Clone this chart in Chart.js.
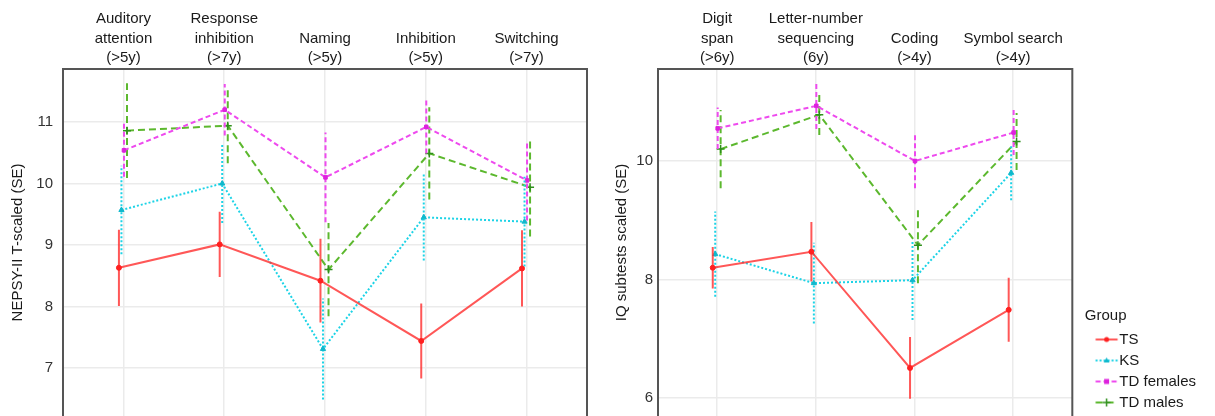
<!DOCTYPE html>
<html>
<head>
<meta charset="utf-8">
<script src="https://cdn.jsdelivr.net/npm/chart.js@4.4.1/dist/chart.umd.min.js"></script>
<style>
  html, body { margin: 0; padding: 0; background: #fff; }
  #wrap { display: flex; width: 1215px; height: 416px; overflow: hidden; }
  canvas { display: block; }
</style>
</head>
<body>
<div id="wrap">
  <canvas id="nepsy" width="590" height="416"></canvas>
  <canvas id="iq" width="625" height="416"></canvas>
</div>
<script>
(() => {
  'use strict'

  const groups = ['TS', 'KS', 'TD females', 'TD males']

  // NEPSY-II subtests
  const nepsyTests = [
    ['Auditory', 'attention', '(>5y)'],
    ['Response', 'inhibition', '(>7y)'],
    ['Naming', '(>5y)'],
    ['Inhibition', '(>5y)'],
    ['Switching', '(>7y)']
  ]
  const nepsyTS = [8.63, 9.01, 8.42, 7.44, 8.62]
  const nepsyTSse = [0.62, 0.53, 0.68, 0.61, 0.62]
  const nepsyKS = [9.57, 10.0, 7.31, 9.45, 9.38]
  const nepsyKSse = [0.72, 0.64, 0.82, 0.70, 0.73]
  const nepsyTDf = [10.54, 11.2, 10.1, 10.92, 10.05]
  const nepsyTDfse = [0.43, 0.42, 0.73, 0.43, 0.65]
  const nepsyTDm = [10.86, 10.94, 8.6, 10.49, 9.94]
  const nepsyTDmse = [0.77, 0.61, 0.76, 0.75, 0.8]

  // IQ subtests
  const iqTests = [
    ['Digit', 'span', '(>6y)'],
    ['Letter-number', 'sequencing', '(6y)'],
    ['Coding', '(>4y)'],
    ['Symbol search', '(>4y)']
  ]
  const iqTS = [8.2, 8.47, 6.51, 7.49]
  const iqTSse = [0.35, 0.5, 0.52, 0.54]
  const iqKS = [8.43, 7.94, 7.99, 9.8]
  const iqKSse = [0.72, 0.68, 0.67, 0.46]
  const iqTDf = [10.55, 10.93, 10.0, 10.48]
  const iqTDfse = [0.35, 0.39, 0.46, 0.38]
  const iqTDm = [10.2, 10.78, 8.58, 10.33]
  const iqTDmse = [0.66, 0.34, 0.64, 0.48]

  const font = "'Liberation Sans', Arial, sans-serif"
  const colors = ['rgba(255, 45, 45, 0.8)', '#1cd3e6', '#ee4aee', '#5cb82e']
  const pointColors = ['#ff2020', '#10b8cc', '#dd22dd', '#2f8f1c']
  const dashes = [[], [2, 2], [5, 3], [7, 4]]
  const markers = ['circle', 'triangle', 'rect', 'cross']
  const radii = [2.5, 3, 2.5, 4]
  const dodge = [-0.045, -0.02, 0.005, 0.035]

  function buildDatasets (means, ses) {
    const out = []
    means.forEach((vals, g) => {
      out.push({
        label: groups[g],
        data: vals.map((v, i) => ({ x: i + 1 + dodge[g], y: v })),
        borderColor: colors[g],
        backgroundColor: pointColors[g],
        pointBorderColor: pointColors[g],
        borderDash: dashes[g],
        borderWidth: 2,
        pointStyle: markers[g],
        pointRadius: radii[g],
        pointBorderWidth: g === 3 ? 1.5 : 1,
        tension: 0,
        order: g
      })
      const bars = []
      vals.forEach((v, i) => {
        const x = i + 1 + dodge[g]
        bars.push({ x, y: v - ses[g][i] }, { x, y: v + ses[g][i] }, { x, y: null })
      })
      out.push({
        label: groups[g] + ' SE',
        data: bars,
        borderColor: colors[g],
        borderDash: dashes[g],
        borderWidth: 2,
        pointRadius: 0,
        spanGaps: false,
        tension: 0,
        order: g
      })
    })
    return out
  }

  function buildScales (labels, yMin, yMax, step, yTitle, axisWidth, tickPad, titlePad) {
    return {
      x: {
        type: 'linear',
        position: 'top',
        min: 0.4,
        max: labels.length + 0.6,
        afterFit: axis => {
          axis.height = 69
          axis.paddingLeft = 0
          axis.paddingRight = 0
        },
        grid: { color: '#ebebeb', lineWidth: 1.5, drawTicks: false },
        border: { display: false },
        ticks: {
          stepSize: 1,
          includeBounds: false,
          autoSkip: false,
          maxRotation: 0,
          padding: 1,
          color: '#1a1a1a',
          font: { family: font, size: 15, lineHeight: 1.3 },
          callback: v => labels[Math.round(v) - 1]
        }
      },
      y: {
        min: yMin,
        max: yMax,
        afterFit: axis => {
          axis.width = axisWidth
          axis.paddingTop = 0
          axis.paddingBottom = 0
        },
        grid: { color: '#ebebeb', lineWidth: 1.5, drawTicks: false },
        border: { display: false },
        title: {
          display: true,
          text: yTitle,
          color: '#1a1a1a',
          font: { family: font, size: 15 },
          padding: { top: titlePad, bottom: 0 }
        },
        ticks: {
          stepSize: step,
          includeBounds: false,
          padding: tickPad,
          color: '#333',
          font: { family: font, size: 15 }
        }
      }
    }
  }

  const frame = {
    id: 'frame',
    afterDatasetsDraw (chart) {
      const { ctx, chartArea: a } = chart
      ctx.save()
      ctx.strokeStyle = '#555'
      ctx.lineWidth = 2
      ctx.beginPath()
      ctx.moveTo(a.left, chart.height)
      ctx.lineTo(a.left, a.top)
      ctx.lineTo(a.right, a.top)
      ctx.lineTo(a.right, chart.height)
      ctx.stroke()
      ctx.restore()
    }
  }

  // legend samples: short line with the group's marker
  const legendIcons = groups.map((g, i) => {
    const c = document.createElement('canvas')
    c.width = 48
    c.height = 12
    const x = c.getContext('2d')
    x.strokeStyle = colors[i]
    x.lineWidth = 2
    x.setLineDash(dashes[i])
    x.beginPath()
    x.moveTo(24.5, 6)
    x.lineTo(46.5, 6)
    x.stroke()
    x.setLineDash([])
    x.fillStyle = pointColors[i]
    x.strokeStyle = pointColors[i]
    const cx = 35.5
    if (i === 0) { x.beginPath(); x.arc(cx, 6, 2.5, 0, Math.PI * 2); x.fill() }
    if (i === 1) { x.beginPath(); x.moveTo(cx, 3); x.lineTo(cx + 3, 8); x.lineTo(cx - 3, 8); x.closePath(); x.fill() }
    if (i === 2) { x.fillRect(cx - 2.5, 3.5, 5, 5) }
    if (i === 3) { x.lineWidth = 1.5; x.beginPath(); x.moveTo(cx - 4, 6); x.lineTo(cx + 4, 6); x.moveTo(cx, 2); x.lineTo(cx, 10); x.stroke() }
    return c
  })

  const common = {
    responsive: false,
    animation: false,
    events: []
  }

  new Chart(document.getElementById('nepsy'), {
    type: 'line',
    data: {
      datasets: buildDatasets(
        [nepsyTS, nepsyKS, nepsyTDf, nepsyTDm],
        [nepsyTSse, nepsyKSse, nepsyTDfse, nepsyTDmse]
      )
    },
    options: {
      ...common,
      layout: { autoPadding: false, padding: { right: 3 } },
      scales: buildScales(nepsyTests, 6.22, 11.862, 1, 'NEPSY-II T-scaled (SE)', 63, 10, 9),
      plugins: { legend: { display: false }, tooltip: { enabled: false } }
    },
    plugins: [frame]
  })

  new Chart(document.getElementById('iq'), {
    type: 'line',
    data: {
      datasets: buildDatasets(
        [iqTS, iqKS, iqTDf, iqTDm],
        [iqTSse, iqKSse, iqTDfse, iqTDmse]
      )
    },
    options: {
      ...common,
      layout: { autoPadding: false, padding: { right: 9 } },
      scales: buildScales(iqTests, 5.70, 11.551, 2, 'IQ subtests scaled (SE)', 68, 5, 23),
      plugins: {
        tooltip: { enabled: false },
        legend: {
          display: true,
          position: 'right',
          align: 'end',
          title: {
            display: true,
            text: '   Group',
            color: '#1a1a1a',
            position: 'start',
            font: { family: font, size: 15 },
            padding: { top: 0, bottom: 0 }
          },
          labels: {
            usePointStyle: true,
            pointStyleWidth: 33.5,
            padding: 6,
            color: '#1a1a1a',
            font: { family: font, size: 15 },
            generateLabels: () => groups.map((g, i) => ({
              text: g,
              pointStyle: legendIcons[i],
              fillStyle: 'transparent',
              strokeStyle: 'transparent',
              lineWidth: 0,
              hidden: false,
              datasetIndex: i * 2
            }))
          }
        }
      }
    },
    plugins: [frame]
  })
})()
</script>
</body>
</html>
